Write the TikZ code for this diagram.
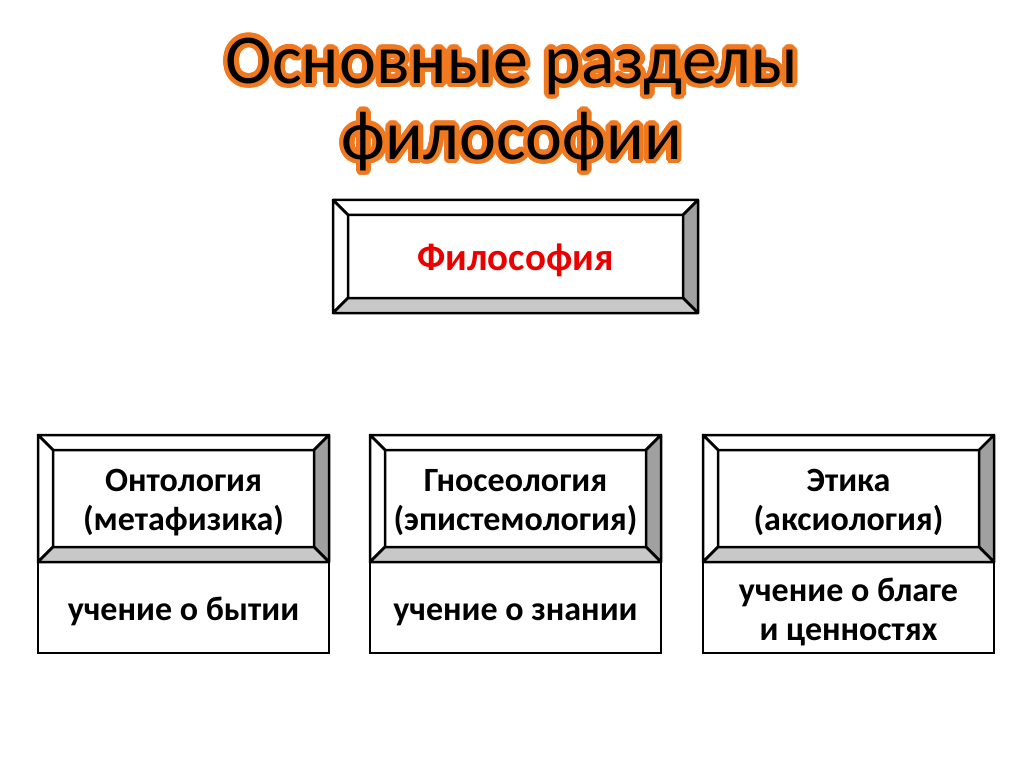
\documentclass[tikz,border=0pt]{standalone}
\usepackage{fontspec}
\setmainfont{Carlito}
\usepackage{tikz}

\definecolor{titleorange}{RGB}{240,120,30}
\definecolor{bevelside}{RGB}{160,160,160}
\definecolor{bevelbottom}{RGB}{200,200,200}
\definecolor{philred}{RGB}{235,0,0}

\tikzset{
  titletext/.style={font=\fontsize{70}{76}\selectfont, align=center, text height=0.7em, text depth=0.24em},
  boxtext/.style={font=\bfseries\fontsize{34}{39}\selectfont, align=center, text height=0.7em, text depth=0.24em},
  bevelline/.style={line width=2.5pt, line join=round},
}

% raised frame: x1, y1, x2, y2 (pixel units, y downwards)
\newcommand{\bevelbox}[4]{%
  \filldraw[bevelline, fill=white] ({#1},{#2}) -- ({#3},{#2}) -- ({#3-15},{#2+15}) -- ({#1+15},{#2+15}) -- cycle;
  \filldraw[bevelline, fill=white] ({#1},{#2}) -- ({#1+15},{#2+15}) -- ({#1+15},{#4-15}) -- ({#1},{#4}) -- cycle;
  \filldraw[bevelline, fill=bevelside] ({#3},{#2}) -- ({#3},{#4}) -- ({#3-15},{#4-15}) -- ({#3-15},{#2+15}) -- cycle;
  \filldraw[bevelline, fill=bevelbottom] ({#1},{#4}) -- ({#3},{#4}) -- ({#3-15},{#4-15}) -- ({#1+15},{#4-15}) -- cycle;
  \draw[line width=2.5pt] ({#1},{#2}) rectangle ({#3},{#4});
}

\begin{document}
\begin{tikzpicture}[x=1pt, y=-1pt]
    \useasboundingbox[fill=white] (0,0) rectangle (1024,767);

    % title with orange halo
    \foreach \a in {0,15,...,345}
        \node[titletext, text=titleorange, shift={(\a:4.5)}] at (512,157) {Основные разделы\\философии};
    \node[titletext] (title) at (512,157) {Основные разделы\\философии};

    % top box
    \bevelbox{333}{200}{698}{313}
    \node[boxtext, text=philred, font=\bfseries\fontsize{39}{44}\selectfont] (phil) at (515.5,268) {Философия};

    % three sections (y of text centre is taken from the last line)
    \foreach \x/\nm/\head/\desc/\dy in {
        38/onto/{Онтология\\(метафизика)}/{учение о бытии}/618,
        370/gnos/{Гносеология\\(эпистемология)}/{учение о знании}/618,
        703/etika/{Этика\\(аксиология)}/{учение о благе\\и ценностях}/638}
    {
        \draw[line width=2.5pt] (\x,562) rectangle ({\x+291},653);
        \bevelbox{\x}{435}{\x+291}{562}
        \node[boxtext] (\nm) at ({\x+145.5},528) {\head};
        \node[boxtext] (\nm-desc) at ({\x+145.5},\dy) {\desc};
    }
\end{tikzpicture}
\end{document}
